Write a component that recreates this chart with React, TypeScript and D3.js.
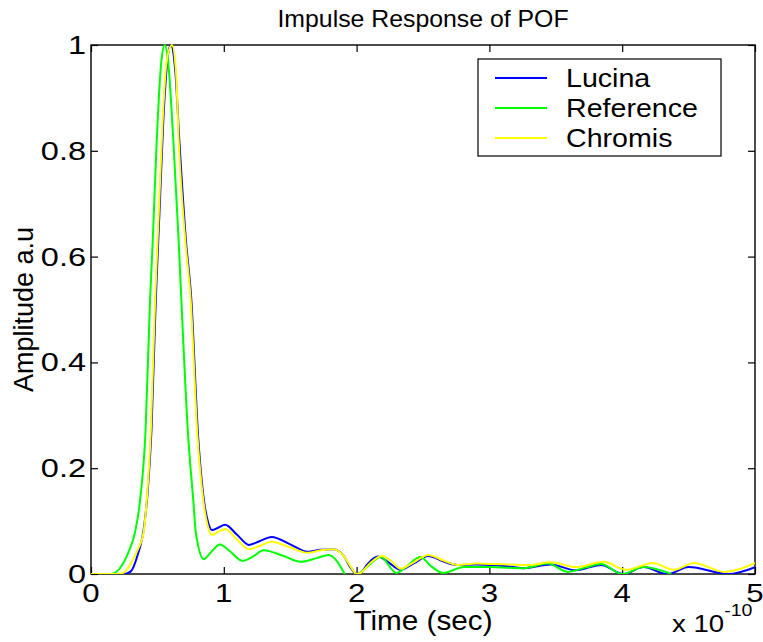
import { useEffect, useRef } from 'react';
import * as d3 from 'd3';

// time axis in units of 1e-10 s
const lucinaT = [0, 0.25, 0.3, 0.35, 0.4, 0.425, 0.455, 0.488, 0.515, 0.545, 0.575, 0.6, 0.635, 0.665, 0.715, 0.755, 0.805, 0.85, 0.885, 0.91, 0.96, 1.01, 1.1, 1.19, 1.27, 1.36, 1.5, 1.63, 1.73, 1.83, 1.9, 1.96, 2.0, 2.03, 2.08, 2.16, 2.24, 2.33, 2.43, 2.54, 2.65, 2.76, 2.9, 3.0, 3.15, 3.26, 3.46, 3.65, 3.84, 4.01, 4.16, 4.34, 4.5, 4.8, 5.0];
const lucinaA = [0, 0, 0.005, 0.035, 0.09, 0.15, 0.27, 0.52, 0.68, 0.86, 0.97, 1.0, 0.95, 0.82, 0.63, 0.52, 0.267, 0.14, 0.095, 0.083, 0.088, 0.093, 0.074, 0.055, 0.062, 0.07, 0.056, 0.042, 0.046, 0.047, 0.035, 0.01, 0, 0.002, 0.018, 0.033, 0.022, 0.008, 0.02, 0.034, 0.024, 0.017, 0.018, 0.017, 0.014, 0.011, 0.018, 0.007, 0.017, 0, 0.013, 0, 0.013, 0, 0.013];

const referenceT = [0, 0.15, 0.23, 0.28, 0.33, 0.37, 0.41, 0.445, 0.465, 0.495, 0.53, 0.555, 0.58, 0.62, 0.66, 0.68, 0.73, 0.77, 0.79, 0.85, 0.9, 0.97, 1.05, 1.14, 1.22, 1.3, 1.44, 1.58, 1.7, 1.79, 1.85, 1.91, 1.95, 2.02, 2.1, 2.18, 2.3, 2.38, 2.48, 2.56, 2.65, 2.81, 3.0, 3.26, 3.44, 3.59, 3.72, 3.84, 4.0, 4.16, 4.37];
const referenceA = [0, 0, 0.015, 0.04, 0.077, 0.14, 0.267, 0.52, 0.63, 0.82, 0.97, 1.0, 0.97, 0.82, 0.63, 0.52, 0.267, 0.14, 0.077, 0.028, 0.04, 0.056, 0.042, 0.025, 0.033, 0.045, 0.035, 0.023, 0.03, 0.036, 0.025, 0, null, 0, 0.018, 0.032, 0.002, 0.015, 0.032, 0.015, 0.002, 0.013, 0.013, 0.011, 0.02, 0.004, 0.012, 0.019, 0, 0.013, 0];

const chromisT = [0, 0.2, 0.25, 0.3, 0.35, 0.395, 0.42, 0.45, 0.483, 0.51, 0.54, 0.57, 0.61, 0.64, 0.66, 0.71, 0.75, 0.8, 0.845, 0.88, 0.91, 0.96, 1.01, 1.1, 1.19, 1.27, 1.36, 1.5, 1.63, 1.73, 1.83, 1.9, 1.96, 2.0, 2.03, 2.1, 2.19, 2.26, 2.33, 2.43, 2.54, 2.65, 2.76, 2.9, 3.0, 3.15, 3.3, 3.46, 3.65, 3.86, 4.03, 4.23, 4.39, 4.54, 4.77, 5.0];
const chromisA = [0, 0, 0.003, 0.02, 0.045, 0.077, 0.14, 0.267, 0.52, 0.68, 0.86, 0.97, 1.0, 0.95, 0.82, 0.63, 0.52, 0.267, 0.14, 0.09, 0.074, 0.08, 0.085, 0.065, 0.047, 0.053, 0.061, 0.05, 0.04, 0.045, 0.047, 0.035, 0.012, 0, 0.002, 0.02, 0.034, 0.025, 0.01, 0.022, 0.036, 0.026, 0.017, 0.02, 0.019, 0.018, 0.017, 0.022, 0.013, 0.023, 0.008, 0.021, 0.008, 0.021, 0.004, 0.021];

const xTicks = [0, 1, 2, 3, 4, 5];
const yTicks = [0, 0.2, 0.4, 0.6, 0.8, 1];
const seriesNames = ['Lucina', 'Reference', 'Chromis'];
const seriesColors = ['#0000ff', '#00ff00', '#ffff00'];

const FONT = '"Liberation Sans", Arial, sans-serif';

function App() {
  const svgRef = useRef<SVGSVGElement>(null);

  useEffect(() => {
    if (!svgRef.current) return;
    const width = 763;
    const height = 642;
    const margin = { top: 45, right: 8, bottom: 68, left: 91 };
    const innerWidth = width - margin.left - margin.right;
    const innerHeight = height - margin.top - margin.bottom;

    const svg = d3.select(svgRef.current);
    svg.selectAll('*').remove();
    svg.attr('width', width).attr('height', height);

    svg.append('rect').attr('width', width).attr('height', height).attr('fill', 'white');

    // text stretched a little horizontally, like the exported figure
    const addText = (parent: any, x: number, y: number, str: string, size: number, anchor: string, sx: number) =>
      parent.append('text')
        .attr('transform', `translate(${x}, ${y}) scale(${sx}, 1)`)
        .attr('text-anchor', anchor)
        .style('font-family', FONT)
        .style('font-size', `${size}px`)
        .attr('fill', '#000')
        .text(str);

    const g = svg.append('g').attr('transform', `translate(${margin.left}, ${margin.top})`);

    const x = d3.scaleLinear().domain([0, 5]).range([0, innerWidth]);
    const y = d3.scaleLinear().domain([0, 1]).range([innerHeight, 0]);

    svg.append('defs').append('clipPath').attr('id', 'plot-clip')
      .append('rect').attr('x', 0).attr('y', -2).attr('width', innerWidth).attr('height', innerHeight + 2);

    // Axes box with inward ticks on all sides
    g.append('g')
      .attr('transform', `translate(0, ${innerHeight})`)
      .call(d3.axisBottom(x).tickValues(xTicks).tickSize(-7).tickFormat(() => ''))
      .call(a => a.select('.domain').remove());
    g.append('g')
      .call(d3.axisTop(x).tickValues(xTicks).tickSize(-7).tickFormat(() => ''))
      .call(a => a.select('.domain').remove());
    g.append('g')
      .call(d3.axisLeft(y).tickValues(yTicks).tickSize(-7).tickFormat(() => ''))
      .call(a => a.select('.domain').remove());
    g.append('g')
      .attr('transform', `translate(${innerWidth}, 0)`)
      .call(d3.axisRight(y).tickValues(yTicks).tickSize(-7).tickFormat(() => ''))
      .call(a => a.select('.domain').remove());
    g.selectAll('.tick line').attr('stroke', '#000').attr('stroke-width', 1.2);

    g.append('rect')
      .attr('width', innerWidth)
      .attr('height', innerHeight)
      .attr('fill', 'none')
      .attr('stroke', '#000')
      .attr('stroke-width', 1.4);

    // Tick labels
    xTicks.forEach(d => addText(g, x(d), innerHeight + 28, String(d), 25, 'middle', 1.25));
    yTicks.forEach(d => addText(g, -5, y(d) + 9, String(d), 25, 'end', 1.3));

    // Lines
    const lines = [
      { t: lucinaT, a: lucinaA },
      { t: referenceT, a: referenceA },
      { t: chromisT, a: chromisA },
    ];
    const line = d3.line<[number, number | null]>()
      .defined(d => d[1] !== null)
      .x(d => x(d[0]))
      .y(d => y(d[1] as number))
      .curve(d3.curveMonotoneX);

    const plot = g.append('g').attr('clip-path', 'url(#plot-clip)');
    lines.forEach((s, i) => {
      const pts = s.t.map((t, k) => [t, s.a[k]] as [number, number | null]);
      plot.append('path')
        .datum(pts)
        .attr('fill', 'none')
        .attr('stroke', seriesColors[i])
        .attr('stroke-width', 2)
        .attr('d', line);
    });

    // Legend
    const legend = svg.append('g');
    legend.append('rect')
      .attr('x', 478).attr('y', 59).attr('width', 243).attr('height', 97)
      .attr('fill', 'white').attr('stroke', '#000').attr('stroke-width', 1.2);
    seriesNames.forEach((name, i) => {
      const ly = 78 + i * 30;
      legend.append('line')
        .attr('x1', 495).attr('x2', 547).attr('y1', ly).attr('y2', ly)
        .attr('stroke', seriesColors[i]).attr('stroke-width', 2);
      addText(legend, 566, ly + 9, name, 26, 'start', 1.1);
    });

    // Title and axis labels
    addText(svg, margin.left + innerWidth / 2, 27, 'Impulse Response of POF', 23, 'middle', 1.08);
    addText(svg, margin.left + innerWidth / 2, 630, 'Time (sec)', 27, 'middle', 1.1);

    svg.append('text')
      .attr('transform', `translate(33, ${margin.top + innerHeight / 2}) rotate(-90)`)
      .attr('text-anchor', 'middle')
      .style('font-family', FONT)
      .style('font-size', '27px')
      .text('Amplitude a.u');

    const mult = svg.append('text')
      .attr('transform', 'translate(672, 632) scale(1.15, 1)')
      .style('font-family', FONT)
      .style('font-size', '24px');
    mult.append('tspan').text('x 10');
    mult.append('tspan').attr('dy', -16).style('font-size', '17px').text('-10');
  }, []);

  return (
    <svg ref={svgRef} style={{ position: 'absolute', left: 0, top: 0 }}></svg>
  );
}

export default App;
